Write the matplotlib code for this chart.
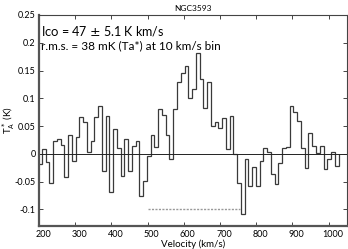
import numpy as np
import matplotlib
matplotlib.use('Agg')
from matplotlib import pyplot as plt
from matplotlib.ticker import FuncFormatter
import matplotlib.transforms as mtransforms

# channel centres (km/s)
velocity = [202.5, 212.9, 223.3, 233.6, 244.0, 254.4, 264.8, 275.2, 285.5, 295.9,
            306.3, 316.7, 327.1, 337.4, 347.8, 358.2, 368.6, 379.0, 389.3, 399.7,
            410.1, 420.5, 430.9, 441.2, 451.6, 462.0, 472.4, 482.8, 493.1, 503.5,
            513.9, 524.3, 534.7, 545.0, 555.4, 565.8, 576.2, 586.6, 596.9, 607.3,
            617.7, 628.1, 638.5, 648.8, 659.2, 669.6, 680.0, 690.4, 700.7, 711.1,
            721.5, 731.9, 742.3, 752.6, 763.0, 773.4, 783.8, 794.2, 804.5, 814.9,
            825.3, 835.7, 846.1, 856.4, 866.8, 877.2, 887.6, 898.0, 908.3, 918.7,
            929.1, 939.5, 949.9, 960.2, 970.6, 981.0, 991.4, 1001.8, 1012.1, 1022.5]

# antenna temperature T_A* (K)
ta = [-0.018, 0.009, -0.014, -0.052, 0.024, 0.026, 0.016, -0.042, 0.034, -0.012,
      0.031, 0.067, 0.058, 0.004, 0.024, 0.066, 0.087, -0.031, 0.069, -0.069,
      0.045, 0.010, -0.040, 0.027, -0.031, 0.014, 0.024, -0.075, -0.048, -0.004,
      0.034, 0.012, 0.081, 0.070, 0.034, -0.010, 0.081, 0.130, 0.146, 0.158,
      0.100, 0.117, 0.182, 0.134, 0.083, 0.129, 0.051, 0.057, 0.047, 0.065,
      0.008, 0.068, -0.001, -0.053, -0.108, -0.009, -0.057, -0.023, -0.058, -0.012,
      0.011, 0.003, -0.037, -0.054, -0.016, 0.011, 0.012, 0.087, 0.075, 0.059,
      0.011, -0.025, 0.038, 0.014, 0.002, 0.014, -0.027, -0.009, 0.004, -0.022]

line_range = [500, 755]   # velocity range of the line window
line_level = -0.1

x_ticks = [200, 300, 400, 500, 600, 700, 800, 900, 1000]
y_ticks = [-0.1, -0.05, 0, 0.05, 0.1, 0.15, 0.2, 0.25]

plt.rcParams['font.family'] = ['Lato', 'DejaVu Sans']

fig = plt.figure(figsize=(3.48, 2.49), dpi=100)
ax = fig.add_axes([0.112, 0.092, 0.884, 0.848])

v = np.array(velocity)
half = (v[1] - v[0]) / 2
edges = np.concatenate([[v[0] - half], (v[1:] + v[:-1]) / 2, [v[-1] + half]])
ax.stairs(ta, edges, color='#3a3a3a', lw=0.9)

ax.axhline(0, color='#222222', lw=0.7)
ax.plot(line_range, [line_level, line_level], color='#999999', lw=1.0,
        ls=(0, (1.5, 1.0)))

ax.set_xlim(200, 1050)
ax.set_ylim(-0.13, 0.25)
ax.set_xticks(x_ticks)
ax.set_yticks(y_ticks)
ax.yaxis.set_major_formatter(FuncFormatter(lambda y, pos: f'{y:g}'))
ax.tick_params(direction='in', top=True, right=True, length=3, width=0.7,
               labelsize=6.5, pad=2.5, color='#444444')
for lbl in ax.get_xticklabels():
    lbl.set_transform(lbl.get_transform() +
                      mtransforms.ScaledTranslation(4 / 100, 0, fig.dpi_scale_trans))

for side in ['left', 'bottom']:
    ax.spines[side].set_linewidth(1.6)
    ax.spines[side].set_color('#555555')
for side in ['top', 'right']:
    ax.spines[side].set_linewidth(0.8)
    ax.spines[side].set_color('#444444')

ax.set_xlabel('Velocity (km/s)', fontsize=7, labelpad=1)
ax.set_ylabel(r'T$_{\rm A}^*$ (K)', fontsize=7)
ax.yaxis.set_label_coords(-0.07, 0.5)
ax.set_title('NGC3593', fontsize=6, pad=3)

ax.text(0.008, 0.958, 'I\u1d04\u1d0f = 47 $\\pm$ 5.1 K km/s', transform=ax.transAxes,
        fontsize=9, va='top', ha='left')
ax.text(0.008, 0.878, 'r.m.s. = 38 mK (Ta*) at 10 km/s bin', transform=ax.transAxes,
        fontsize=8.5, va='top', ha='left')

plt.savefig('out.png', dpi=100)
